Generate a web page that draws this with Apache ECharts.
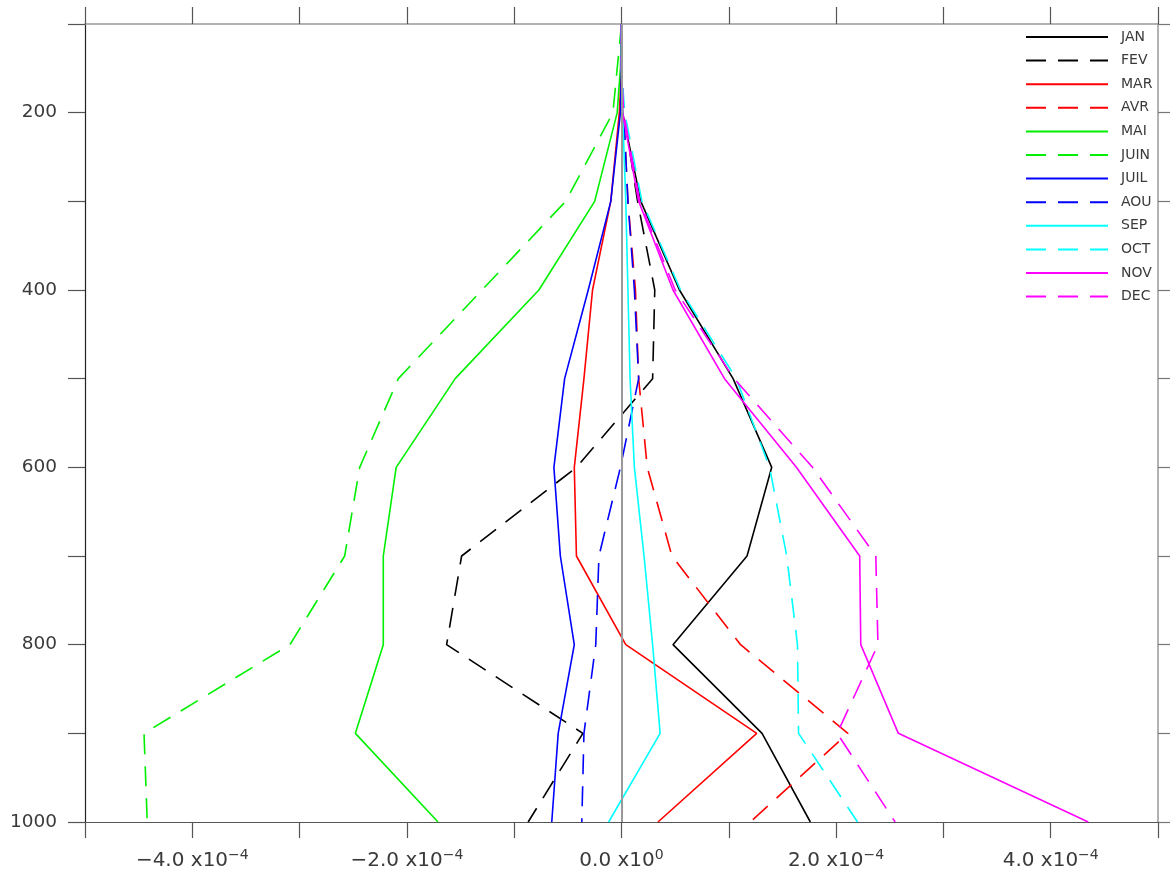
<!DOCTYPE html>
<html>
<head>
<meta charset="utf-8">
<script src="https://cdn.jsdelivr.net/npm/echarts@6/dist/echarts.min.js"></script>
<style>
html,body{margin:0;padding:0;background:#fff;}
#chart{width:1170px;height:871px;}
</style>
</head>
<body>
<div id="chart"></div>
<script>
// Pressure levels (hPa)
const levels = [100, 150, 200, 300, 400, 500, 600, 700, 800, 900, 1000];
// Values in units of 1e-4
const JAN  = [0, 0, 0.01, 0.18, 0.54, 1.04, 1.40, 1.17, 0.48, 1.31, 1.76];
const FEV  = [0, 0, 0.02, 0.15, 0.31, 0.29, -0.42, -1.49, -1.63, -0.36, -0.87];
const MAR  = [0, 0, -0.02, -0.10, -0.27, -0.35, -0.44, -0.42, 0.04, 1.26, 0.34];
const AVR  = [0, 0, 0.02, 0.06, 0.13, 0.16, 0.24, 0.47, 1.11, 2.11, 1.20];
const MAI  = [0, -0.01, -0.04, -0.25, -0.77, -1.55, -2.10, -2.22, -2.22, -2.48, -1.71];
const JUIN = [0, -0.04, -0.08, -0.52, -1.30, -2.08, -2.44, -2.58, -3.09, -4.45, -4.42];
const JUIL = [0, 0, -0.01, -0.10, -0.31, -0.53, -0.63, -0.57, -0.44, -0.59, -0.65];
const AOU  = [0, 0, 0.02, 0.06, 0.12, 0.16, -0.01, -0.21, -0.24, -0.35, -0.37];
const SEP  = [0, 0, 0.01, 0.04, 0.06, 0.08, 0.12, 0.21, 0.29, 0.36, -0.12];
const OCT  = [0, 0, 0.03, 0.19, 0.55, 1.07, 1.38, 1.54, 1.64, 1.65, 2.20];
const NOV  = [0, 0, 0.01, 0.16, 0.48, 0.96, 1.63, 2.22, 2.23, 2.58, 4.35];
const DEC  = [0, 0, 0.02, 0.17, 0.50, 1.05, 1.78, 2.37, 2.39, 2.01, 2.55];

const months = ['JAN','FEV','MAR','AVR','MAI','JUIN','JUIL','AOU','SEP','OCT','NOV','DEC'];
const values = [JAN, FEV, MAR, AVR, MAI, JUIN, JUIL, AOU, SEP, OCT, NOV, DEC];
const colors = ['#000000','#000000','#ff0000','#ff0000','#00f000','#00f000','#0000ff','#0000ff','#00ffff','#00ffff','#ff00ff','#ff00ff'];
const dashed = [false,true,false,true,false,true,false,true,false,true,false,true];
const xTickLabels = [-4, -2, 0, 2, 4];

const FONT = 'DejaVu Sans';
const TXT = '#3a3a3a';

const series = months.map((m, i) => {
  const s = {
    name: m,
    type: 'line',
    symbol: 'none',
    xAxisIndex: 0,
    yAxisIndex: 0,
    data: levels.map((p, k) => [values[i][k], p]),
    lineStyle: { color: colors[i], width: 1.6, type: dashed[i] ? [20, 12] : 'solid' },
    itemStyle: { color: colors[i] },
    emphasis: { disabled: true },
    animation: false
  };
  if (i === 0) {
    s.markLine = {
      silent: true,
      symbol: 'none',
      label: { show: false },
      lineStyle: { color: '#999999', width: 2, type: 'solid' },
      data: [{ xAxis: 0 }],
      animation: false
    };
  }
  return s;
});

function xLabel(v) {
  const r = Math.round(v);
  if (Math.abs(v - r) > 1e-6 || xTickLabels.indexOf(r) < 0) return '';
  if (r === 0) return '{b|0.0 x10}{s|0}';
  const num = (r < 0 ? '\u2212' : '') + Math.abs(r).toFixed(1);
  return '{b|' + num + ' x10}{s|\u22124}';
}

const chart = echarts.init(document.getElementById('chart'), null, { renderer: 'canvas' });
chart.setOption({
  backgroundColor: '#ffffff',
  animation: false,
  grid: { left: 85, right: 12, top: 24, bottom: 49, containLabel: false },
  legend: {
    orient: 'vertical',
    left: 1025,
    top: 30,
    padding: 0,
    itemWidth: 82,
    itemHeight: 14,
    itemGap: 9.6,
    data: months,
    textStyle: { fontFamily: FONT, fontSize: 14, color: TXT, lineHeight: 14, padding: [0, 0, 0, 8] },
    itemStyle: { color: 'transparent', borderWidth: 0, opacity: 0 },
    lineStyle: { width: 2 }
  },
  xAxis: [
    {
      type: 'value', position: 'bottom', min: -5, max: 5, interval: 1,
      axisLine: { show: true, onZero: false, lineStyle: { color: '#555555', width: 1.2 } },
      axisTick: { show: true, inside: false, length: 16, lineStyle: { color: '#555555', width: 1.2 } },
      splitLine: { show: false },
      axisLabel: {
        show: true, margin: 26, formatter: xLabel, color: TXT,
        rich: {
          b: { fontFamily: FONT, fontSize: 20, color: TXT, lineHeight: 26 },
          s: { fontFamily: FONT, fontSize: 14, color: TXT, lineHeight: 14, verticalAlign: 'top' }
        }
      }
    },
    {
      type: 'value', position: 'top', min: -5, max: 5, interval: 1,
      axisLine: { show: true, onZero: false, lineStyle: { color: '#999999', width: 1.5 } },
      axisTick: { show: true, inside: false, length: 17, lineStyle: { color: '#555555', width: 1.2 } },
      splitLine: { show: false },
      axisLabel: { show: false }
    }
  ],
  yAxis: [
    {
      type: 'value', position: 'left', inverse: true, min: 100, max: 1000, interval: 100,
      axisLine: { show: true, onZero: false, lineStyle: { color: '#222222', width: 1.2 } },
      axisTick: { show: true, inside: false, length: 17, lineStyle: { color: '#555555', width: 1.2 } },
      splitLine: { show: false },
      axisLabel: {
        show: true, margin: 28, fontFamily: FONT, fontSize: 18.5, color: TXT,
        formatter: v => (v % 200 === 0 ? String(v) : '')
      }
    },
    {
      type: 'value', position: 'right', inverse: true, min: 100, max: 1000, interval: 100,
      axisLine: { show: true, onZero: false, lineStyle: { color: '#999999', width: 1.5 } },
      axisTick: { show: true, inside: false, length: 12, lineStyle: { color: '#777777', width: 1.2 } },
      splitLine: { show: false },
      axisLabel: { show: false }
    }
  ],
  series: series
});
</script>
</body>
</html>
